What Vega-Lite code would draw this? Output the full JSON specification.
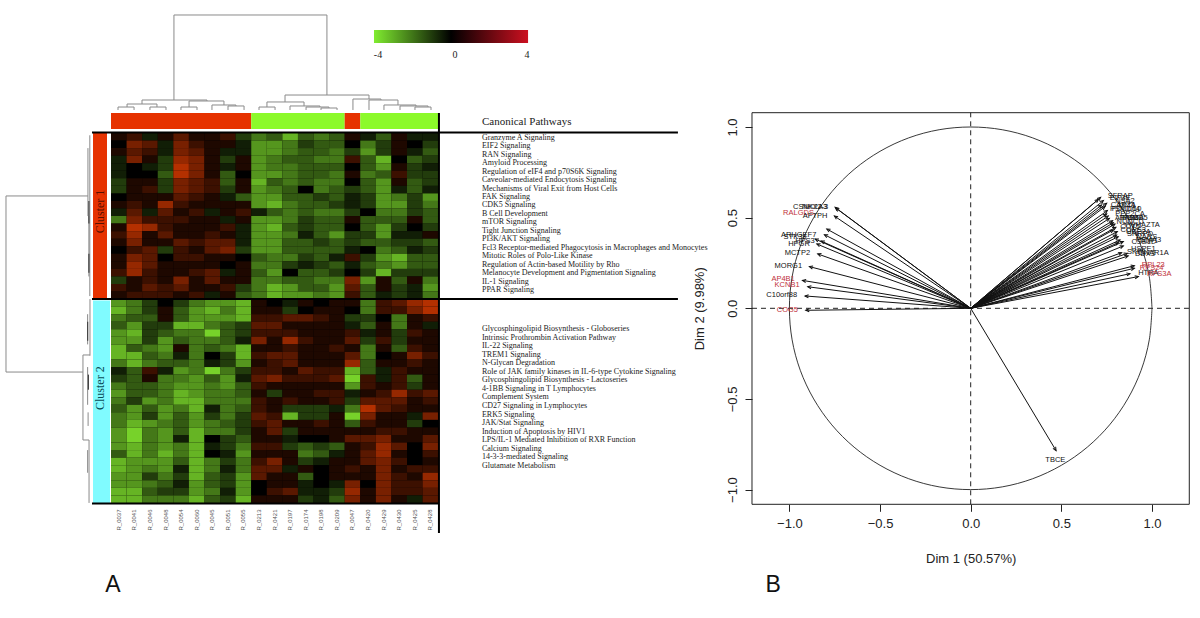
{"$schema":"https://vega.github.io/schema/vega-lite/v6.json","padding":0,"spacing":0,"bounds":"flush","background":"white","config":{"view":{"stroke":null},"concat":{"spacing":0}},
"datasets":{
"heat":[
{"c":0,"r":0,"v":0.5},{"c":1,"r":0,"v":1},{"c":2,"r":0,"v":-0.5},{"c":3,"r":0,"v":0.5},{"c":4,"r":0,"v":1.5},{"c":5,"r":0,"v":0.5},{"c":6,"r":0,"v":0.5},{"c":7,"r":0,"v":1},{"c":8,"r":0,"v":-1},{"c":9,"r":0,"v":-2},{"c":10,"r":0,"v":-1.5},{"c":11,"r":0,"v":-3},{"c":12,"r":0,"v":-1.5},{"c":13,"r":0,"v":-2},{"c":14,"r":0,"v":-1.5},{"c":15,"r":0,"v":0.5},{"c":16,"r":0,"v":-0.5},{"c":17,"r":0,"v":-1.5},{"c":18,"r":0,"v":0.5},{"c":19,"r":0,"v":-0.5},{"c":20,"r":0,"v":-0.5},
{"c":0,"r":1,"v":0},{"c":1,"r":1,"v":2},{"c":2,"r":1,"v":1.5},{"c":3,"r":1,"v":-0.5},{"c":4,"r":1,"v":2},{"c":5,"r":1,"v":1},{"c":6,"r":1,"v":0.5},{"c":7,"r":1,"v":0.5},{"c":8,"r":1,"v":-0.5},{"c":9,"r":1,"v":-2.5},{"c":10,"r":1,"v":-2.5},{"c":11,"r":1,"v":-2},{"c":12,"r":1,"v":-1},{"c":13,"r":1,"v":-1.5},{"c":14,"r":1,"v":-1.5},{"c":15,"r":1,"v":0},{"c":16,"r":1,"v":-2},{"c":17,"r":1,"v":-1},{"c":18,"r":1,"v":0.5},{"c":19,"r":1,"v":0},{"c":20,"r":1,"v":-1},
{"c":0,"r":2,"v":0.5},{"c":1,"r":2,"v":1.5},{"c":2,"r":2,"v":1},{"c":3,"r":2,"v":-0.5},{"c":4,"r":2,"v":2},{"c":5,"r":2,"v":1.5},{"c":6,"r":2,"v":0.5},{"c":7,"r":2,"v":-0.5},{"c":8,"r":2,"v":-0.5},{"c":9,"r":2,"v":-2.5},{"c":10,"r":2,"v":-2.5},{"c":11,"r":2,"v":-2},{"c":12,"r":2,"v":-1.5},{"c":13,"r":2,"v":-1.5},{"c":14,"r":2,"v":-2},{"c":15,"r":2,"v":-1},{"c":16,"r":2,"v":-2.5},{"c":17,"r":2,"v":-1},{"c":18,"r":2,"v":0.5},{"c":19,"r":2,"v":-0.5},{"c":20,"r":2,"v":-1.5},
{"c":0,"r":3,"v":-0.5},{"c":1,"r":3,"v":2},{"c":2,"r":3,"v":0.5},{"c":3,"r":3,"v":-1},{"c":4,"r":3,"v":2.5},{"c":5,"r":3,"v":2},{"c":6,"r":3,"v":0.5},{"c":7,"r":3,"v":-1},{"c":8,"r":3,"v":0.5},{"c":9,"r":3,"v":-2.5},{"c":10,"r":3,"v":-2},{"c":11,"r":3,"v":-1.5},{"c":12,"r":3,"v":-1.5},{"c":13,"r":3,"v":-2},{"c":14,"r":3,"v":-2},{"c":15,"r":3,"v":1},{"c":16,"r":3,"v":-1.5},{"c":17,"r":3,"v":-3},{"c":18,"r":3,"v":0},{"c":19,"r":3,"v":-1.5},{"c":20,"r":3,"v":-1},
{"c":0,"r":4,"v":-0.5},{"c":1,"r":4,"v":0},{"c":2,"r":4,"v":-0.5},{"c":3,"r":4,"v":-1},{"c":4,"r":4,"v":3},{"c":5,"r":4,"v":2},{"c":6,"r":4,"v":0.5},{"c":7,"r":4,"v":-0.5},{"c":8,"r":4,"v":0.5},{"c":9,"r":4,"v":-2.5},{"c":10,"r":4,"v":-2},{"c":11,"r":4,"v":-2},{"c":12,"r":4,"v":-1.5},{"c":13,"r":4,"v":-1.5},{"c":14,"r":4,"v":-1.5},{"c":15,"r":4,"v":0},{"c":16,"r":4,"v":-1.5},{"c":17,"r":4,"v":-2.5},{"c":18,"r":4,"v":0.5},{"c":19,"r":4,"v":-1},{"c":20,"r":4,"v":-0.5},
{"c":0,"r":5,"v":-0.5},{"c":1,"r":5,"v":0},{"c":2,"r":5,"v":0},{"c":3,"r":5,"v":-1.5},{"c":4,"r":5,"v":3},{"c":5,"r":5,"v":2},{"c":6,"r":5,"v":0.5},{"c":7,"r":5,"v":-1.5},{"c":8,"r":5,"v":0},{"c":9,"r":5,"v":-2.5},{"c":10,"r":5,"v":-2.5},{"c":11,"r":5,"v":-2},{"c":12,"r":5,"v":-1.5},{"c":13,"r":5,"v":-1.5},{"c":14,"r":5,"v":-2},{"c":15,"r":5,"v":0.5},{"c":16,"r":5,"v":-2},{"c":17,"r":5,"v":-1.5},{"c":18,"r":5,"v":1},{"c":19,"r":5,"v":-1},{"c":20,"r":5,"v":-1},
{"c":0,"r":6,"v":-1},{"c":1,"r":6,"v":0.5},{"c":2,"r":6,"v":0.5},{"c":3,"r":6,"v":-1},{"c":4,"r":6,"v":2},{"c":5,"r":6,"v":1.5},{"c":6,"r":6,"v":1},{"c":7,"r":6,"v":-1.5},{"c":8,"r":6,"v":0.5},{"c":9,"r":6,"v":-3},{"c":10,"r":6,"v":-1.5},{"c":11,"r":6,"v":-2},{"c":12,"r":6,"v":-1.5},{"c":13,"r":6,"v":-2},{"c":14,"r":6,"v":-2},{"c":15,"r":6,"v":0},{"c":16,"r":6,"v":-1.5},{"c":17,"r":6,"v":-2.5},{"c":18,"r":6,"v":0.5},{"c":19,"r":6,"v":-1.5},{"c":20,"r":6,"v":-1},
{"c":0,"r":7,"v":-1},{"c":1,"r":7,"v":0.5},{"c":2,"r":7,"v":1},{"c":3,"r":7,"v":-1},{"c":4,"r":7,"v":2},{"c":5,"r":7,"v":1.5},{"c":6,"r":7,"v":1},{"c":7,"r":7,"v":-1},{"c":8,"r":7,"v":0.5},{"c":9,"r":7,"v":-2.5},{"c":10,"r":7,"v":-2},{"c":11,"r":7,"v":-1.5},{"c":12,"r":7,"v":0},{"c":13,"r":7,"v":-2},{"c":14,"r":7,"v":-1.5},{"c":15,"r":7,"v":-1},{"c":16,"r":7,"v":-1.5},{"c":17,"r":7,"v":-2.5},{"c":18,"r":7,"v":-0.5},{"c":19,"r":7,"v":-1.5},{"c":20,"r":7,"v":-0.5},
{"c":0,"r":8,"v":0},{"c":1,"r":8,"v":0.5},{"c":2,"r":8,"v":0.5},{"c":3,"r":8,"v":0.5},{"c":4,"r":8,"v":1.5},{"c":5,"r":8,"v":1},{"c":6,"r":8,"v":0.5},{"c":7,"r":8,"v":-0.5},{"c":8,"r":8,"v":-1.5},{"c":9,"r":8,"v":-2.5},{"c":10,"r":8,"v":-2.5},{"c":11,"r":8,"v":-1.5},{"c":12,"r":8,"v":-1.5},{"c":13,"r":8,"v":-1},{"c":14,"r":8,"v":-1.5},{"c":15,"r":8,"v":-0.5},{"c":16,"r":8,"v":-1},{"c":17,"r":8,"v":-2.5},{"c":18,"r":8,"v":-2},{"c":19,"r":8,"v":-1},{"c":20,"r":8,"v":-2.5},
{"c":0,"r":9,"v":0.5},{"c":1,"r":9,"v":1},{"c":2,"r":9,"v":0.5},{"c":3,"r":9,"v":2.5},{"c":4,"r":9,"v":1},{"c":5,"r":9,"v":0.5},{"c":6,"r":9,"v":0.5},{"c":7,"r":9,"v":0.5},{"c":8,"r":9,"v":0.5},{"c":9,"r":9,"v":-2.5},{"c":10,"r":9,"v":-3},{"c":11,"r":9,"v":-2},{"c":12,"r":9,"v":-1.5},{"c":13,"r":9,"v":-1.5},{"c":14,"r":9,"v":-1},{"c":15,"r":9,"v":-0.5},{"c":16,"r":9,"v":-1},{"c":17,"r":9,"v":-2.5},{"c":18,"r":9,"v":-2.5},{"c":19,"r":9,"v":-1},{"c":20,"r":9,"v":-2},
{"c":0,"r":10,"v":-0.5},{"c":1,"r":10,"v":1.5},{"c":2,"r":10,"v":-0.5},{"c":3,"r":10,"v":1.5},{"c":4,"r":10,"v":0.5},{"c":5,"r":10,"v":1},{"c":6,"r":10,"v":-0.5},{"c":7,"r":10,"v":0.5},{"c":8,"r":10,"v":1},{"c":9,"r":10,"v":-0.5},{"c":10,"r":10,"v":-1.5},{"c":11,"r":10,"v":-2},{"c":12,"r":10,"v":-1.5},{"c":13,"r":10,"v":-2},{"c":14,"r":10,"v":-2},{"c":15,"r":10,"v":-1},{"c":16,"r":10,"v":0},{"c":17,"r":10,"v":-2},{"c":18,"r":10,"v":-2},{"c":19,"r":10,"v":-1},{"c":20,"r":10,"v":-1.5},
{"c":0,"r":11,"v":-2},{"c":1,"r":11,"v":2},{"c":2,"r":11,"v":1},{"c":3,"r":11,"v":1},{"c":4,"r":11,"v":1},{"c":5,"r":11,"v":0.5},{"c":6,"r":11,"v":0.5},{"c":7,"r":11,"v":-0.5},{"c":8,"r":11,"v":0.5},{"c":9,"r":11,"v":-2.5},{"c":10,"r":11,"v":-2.5},{"c":11,"r":11,"v":-2},{"c":12,"r":11,"v":-1},{"c":13,"r":11,"v":-1.5},{"c":14,"r":11,"v":-1.5},{"c":15,"r":11,"v":0.5},{"c":16,"r":11,"v":-1.5},{"c":17,"r":11,"v":-1.5},{"c":18,"r":11,"v":-1.5},{"c":19,"r":11,"v":0.5},{"c":20,"r":11,"v":-1.5},
{"c":0,"r":12,"v":0.5},{"c":1,"r":12,"v":3},{"c":2,"r":12,"v":2.5},{"c":3,"r":12,"v":1},{"c":4,"r":12,"v":0.5},{"c":5,"r":12,"v":0.5},{"c":6,"r":12,"v":0.5},{"c":7,"r":12,"v":1},{"c":8,"r":12,"v":-0.5},{"c":9,"r":12,"v":-2.5},{"c":10,"r":12,"v":-3},{"c":11,"r":12,"v":-1.5},{"c":12,"r":12,"v":-1},{"c":13,"r":12,"v":-1.5},{"c":14,"r":12,"v":-1.5},{"c":15,"r":12,"v":0},{"c":16,"r":12,"v":-1.5},{"c":17,"r":12,"v":-2.5},{"c":18,"r":12,"v":-1},{"c":19,"r":12,"v":0},{"c":20,"r":12,"v":-1},
{"c":0,"r":13,"v":1},{"c":1,"r":13,"v":2.5},{"c":2,"r":13,"v":0.5},{"c":3,"r":13,"v":1.5},{"c":4,"r":13,"v":0.5},{"c":5,"r":13,"v":0.5},{"c":6,"r":13,"v":1},{"c":7,"r":13,"v":0.5},{"c":8,"r":13,"v":-0.5},{"c":9,"r":13,"v":-2.5},{"c":10,"r":13,"v":-2.5},{"c":11,"r":13,"v":-2},{"c":12,"r":13,"v":-0.5},{"c":13,"r":13,"v":-1.5},{"c":14,"r":13,"v":-2.5},{"c":15,"r":13,"v":-1},{"c":16,"r":13,"v":-1},{"c":17,"r":13,"v":-2.5},{"c":18,"r":13,"v":-0.5},{"c":19,"r":13,"v":-0.5},{"c":20,"r":13,"v":0.5},
{"c":0,"r":14,"v":0.5},{"c":1,"r":14,"v":2},{"c":2,"r":14,"v":0.5},{"c":3,"r":14,"v":0.5},{"c":4,"r":14,"v":1.5},{"c":5,"r":14,"v":1},{"c":6,"r":14,"v":1.5},{"c":7,"r":14,"v":1.5},{"c":8,"r":14,"v":-0.5},{"c":9,"r":14,"v":-2.5},{"c":10,"r":14,"v":-2.5},{"c":11,"r":14,"v":-1.5},{"c":12,"r":14,"v":-1.5},{"c":13,"r":14,"v":-1},{"c":14,"r":14,"v":-1.5},{"c":15,"r":14,"v":-1},{"c":16,"r":14,"v":-1.5},{"c":17,"r":14,"v":-1.5},{"c":18,"r":14,"v":-1},{"c":19,"r":14,"v":-1},{"c":20,"r":14,"v":-1.5},
{"c":0,"r":15,"v":0},{"c":1,"r":15,"v":1},{"c":2,"r":15,"v":1.5},{"c":3,"r":15,"v":-1},{"c":4,"r":15,"v":1},{"c":5,"r":15,"v":0.5},{"c":6,"r":15,"v":1.5},{"c":7,"r":15,"v":2},{"c":8,"r":15,"v":-1},{"c":9,"r":15,"v":-2.5},{"c":10,"r":15,"v":-2.5},{"c":11,"r":15,"v":-1.5},{"c":12,"r":15,"v":-1.5},{"c":13,"r":15,"v":-1.5},{"c":14,"r":15,"v":-1.5},{"c":15,"r":15,"v":-0.5},{"c":16,"r":15,"v":0},{"c":17,"r":15,"v":-2},{"c":18,"r":15,"v":-1.5},{"c":19,"r":15,"v":-0.5},{"c":20,"r":15,"v":-1},
{"c":0,"r":16,"v":0.5},{"c":1,"r":16,"v":2},{"c":2,"r":16,"v":1.5},{"c":3,"r":16,"v":0},{"c":4,"r":16,"v":1},{"c":5,"r":16,"v":1},{"c":6,"r":16,"v":0.5},{"c":7,"r":16,"v":0.5},{"c":8,"r":16,"v":0},{"c":9,"r":16,"v":-1.5},{"c":10,"r":16,"v":-2},{"c":11,"r":16,"v":-2},{"c":12,"r":16,"v":-1},{"c":13,"r":16,"v":-1.5},{"c":14,"r":16,"v":-0.5},{"c":15,"r":16,"v":1},{"c":16,"r":16,"v":-1},{"c":17,"r":16,"v":-2.5},{"c":18,"r":16,"v":-3},{"c":19,"r":16,"v":-1.5},{"c":20,"r":16,"v":-1.5},
{"c":0,"r":17,"v":0.5},{"c":1,"r":17,"v":2.5},{"c":2,"r":17,"v":1.5},{"c":3,"r":17,"v":0.5},{"c":4,"r":17,"v":0.5},{"c":5,"r":17,"v":0.5},{"c":6,"r":17,"v":0.5},{"c":7,"r":17,"v":0},{"c":8,"r":17,"v":0.5},{"c":9,"r":17,"v":-2},{"c":10,"r":17,"v":-2},{"c":11,"r":17,"v":-1},{"c":12,"r":17,"v":-0.5},{"c":13,"r":17,"v":-1},{"c":14,"r":17,"v":-1.5},{"c":15,"r":17,"v":-0.5},{"c":16,"r":17,"v":-1.5},{"c":17,"r":17,"v":-2},{"c":18,"r":17,"v":-2.5},{"c":19,"r":17,"v":-1.5},{"c":20,"r":17,"v":-1.5},
{"c":0,"r":18,"v":1},{"c":1,"r":18,"v":2.5},{"c":2,"r":18,"v":1},{"c":3,"r":18,"v":0.5},{"c":4,"r":18,"v":0.5},{"c":5,"r":18,"v":1},{"c":6,"r":18,"v":1.5},{"c":7,"r":18,"v":-0.5},{"c":8,"r":18,"v":0.5},{"c":9,"r":18,"v":-1.5},{"c":10,"r":18,"v":-2.5},{"c":11,"r":18,"v":0},{"c":12,"r":18,"v":-1.5},{"c":13,"r":18,"v":-1.5},{"c":14,"r":18,"v":-1},{"c":15,"r":18,"v":0},{"c":16,"r":18,"v":-1},{"c":17,"r":18,"v":-3},{"c":18,"r":18,"v":-1},{"c":19,"r":18,"v":-1},{"c":20,"r":18,"v":-1},
{"c":0,"r":19,"v":-1},{"c":1,"r":19,"v":0.5},{"c":2,"r":19,"v":1},{"c":3,"r":19,"v":0.5},{"c":4,"r":19,"v":2},{"c":5,"r":19,"v":0.5},{"c":6,"r":19,"v":1.5},{"c":7,"r":19,"v":0.5},{"c":8,"r":19,"v":0.5},{"c":9,"r":19,"v":-2},{"c":10,"r":19,"v":-2},{"c":11,"r":19,"v":-1.5},{"c":12,"r":19,"v":-1.5},{"c":13,"r":19,"v":-2},{"c":14,"r":19,"v":-2},{"c":15,"r":19,"v":2},{"c":16,"r":19,"v":-2.5},{"c":17,"r":19,"v":0.5},{"c":18,"r":19,"v":-1.5},{"c":19,"r":19,"v":0.5},{"c":20,"r":19,"v":-2},
{"c":0,"r":20,"v":1},{"c":1,"r":20,"v":0.5},{"c":2,"r":20,"v":1.5},{"c":3,"r":20,"v":1},{"c":4,"r":20,"v":1.5},{"c":5,"r":20,"v":0.5},{"c":6,"r":20,"v":0.5},{"c":7,"r":20,"v":1},{"c":8,"r":20,"v":-1},{"c":9,"r":20,"v":-2},{"c":10,"r":20,"v":-3},{"c":11,"r":20,"v":-2.5},{"c":12,"r":20,"v":-1.5},{"c":13,"r":20,"v":-1.5},{"c":14,"r":20,"v":-2.5},{"c":15,"r":20,"v":1.5},{"c":16,"r":20,"v":-1.5},{"c":17,"r":20,"v":0.5},{"c":18,"r":20,"v":-1},{"c":19,"r":20,"v":-0.5},{"c":20,"r":20,"v":-2.5},
{"c":0,"r":21,"v":0.5},{"c":1,"r":21,"v":1},{"c":2,"r":21,"v":1},{"c":3,"r":21,"v":1},{"c":4,"r":21,"v":0.5},{"c":5,"r":21,"v":1},{"c":6,"r":21,"v":-0.5},{"c":7,"r":21,"v":0.5},{"c":8,"r":21,"v":-1.5},{"c":9,"r":21,"v":-2},{"c":10,"r":21,"v":-3},{"c":11,"r":21,"v":-2.5},{"c":12,"r":21,"v":-2.5},{"c":13,"r":21,"v":-2},{"c":14,"r":21,"v":-2.5},{"c":15,"r":21,"v":1},{"c":16,"r":21,"v":-1.5},{"c":17,"r":21,"v":-0.5},{"c":18,"r":21,"v":-1},{"c":19,"r":21,"v":-0.5},{"c":20,"r":21,"v":-2},
{"c":0,"r":22,"v":-2.5},{"c":1,"r":22,"v":-2},{"c":2,"r":22,"v":-1},{"c":3,"r":22,"v":0},{"c":4,"r":22,"v":-1},{"c":5,"r":22,"v":-2},{"c":6,"r":22,"v":-2.5},{"c":7,"r":22,"v":-2.5},{"c":8,"r":22,"v":-3},{"c":9,"r":22,"v":0.5},{"c":10,"r":22,"v":0},{"c":11,"r":22,"v":-0.5},{"c":12,"r":22,"v":0.5},{"c":13,"r":22,"v":0},{"c":14,"r":22,"v":0.5},{"c":15,"r":22,"v":0.5},{"c":16,"r":22,"v":-2},{"c":17,"r":22,"v":1},{"c":18,"r":22,"v":1.5},{"c":19,"r":22,"v":2.5},{"c":20,"r":22,"v":3},
{"c":0,"r":23,"v":-3},{"c":1,"r":23,"v":-2},{"c":2,"r":23,"v":-1},{"c":3,"r":23,"v":0.5},{"c":4,"r":23,"v":-1.5},{"c":5,"r":23,"v":-2.5},{"c":6,"r":23,"v":-3},{"c":7,"r":23,"v":-2},{"c":8,"r":23,"v":-3},{"c":9,"r":23,"v":0.5},{"c":10,"r":23,"v":0.5},{"c":11,"r":23,"v":-1},{"c":12,"r":23,"v":0},{"c":13,"r":23,"v":0.5},{"c":14,"r":23,"v":0.5},{"c":15,"r":23,"v":0},{"c":16,"r":23,"v":-2},{"c":17,"r":23,"v":1},{"c":18,"r":23,"v":1},{"c":19,"r":23,"v":2},{"c":20,"r":23,"v":3},
{"c":0,"r":24,"v":-2},{"c":1,"r":24,"v":-1.5},{"c":2,"r":24,"v":-1.5},{"c":3,"r":24,"v":0.5},{"c":4,"r":24,"v":-1.5},{"c":5,"r":24,"v":-2.5},{"c":6,"r":24,"v":-2.5},{"c":7,"r":24,"v":-2.5},{"c":8,"r":24,"v":-3},{"c":9,"r":24,"v":1},{"c":10,"r":24,"v":1},{"c":11,"r":24,"v":1.5},{"c":12,"r":24,"v":1.5},{"c":13,"r":24,"v":1},{"c":14,"r":24,"v":0.5},{"c":15,"r":24,"v":-1},{"c":16,"r":24,"v":-1},{"c":17,"r":24,"v":0},{"c":18,"r":24,"v":-2},{"c":19,"r":24,"v":0.5},{"c":20,"r":24,"v":1},
{"c":0,"r":25,"v":-1.5},{"c":1,"r":25,"v":-2.5},{"c":2,"r":25,"v":-1},{"c":3,"r":25,"v":-1},{"c":4,"r":25,"v":-3},{"c":5,"r":25,"v":-3},{"c":6,"r":25,"v":-2},{"c":7,"r":25,"v":-1.5},{"c":8,"r":25,"v":-1},{"c":9,"r":25,"v":1.5},{"c":10,"r":25,"v":1.5},{"c":11,"r":25,"v":0.5},{"c":12,"r":25,"v":0.5},{"c":13,"r":25,"v":0.5},{"c":14,"r":25,"v":0.5},{"c":15,"r":25,"v":-0.5},{"c":16,"r":25,"v":-1.5},{"c":17,"r":25,"v":0.5},{"c":18,"r":25,"v":-2},{"c":19,"r":25,"v":0.5},{"c":20,"r":25,"v":-0.5},
{"c":0,"r":26,"v":-2.5},{"c":1,"r":26,"v":-3},{"c":2,"r":26,"v":-1},{"c":3,"r":26,"v":-1.5},{"c":4,"r":26,"v":-2},{"c":5,"r":26,"v":-2},{"c":6,"r":26,"v":-3.5},{"c":7,"r":26,"v":-1.5},{"c":8,"r":26,"v":-1},{"c":9,"r":26,"v":1},{"c":10,"r":26,"v":1},{"c":11,"r":26,"v":1},{"c":12,"r":26,"v":0.5},{"c":13,"r":26,"v":0.5},{"c":14,"r":26,"v":0.5},{"c":15,"r":26,"v":1},{"c":16,"r":26,"v":-0.5},{"c":17,"r":26,"v":0.5},{"c":18,"r":26,"v":-1},{"c":19,"r":26,"v":1},{"c":20,"r":26,"v":0.5},
{"c":0,"r":27,"v":-2.5},{"c":1,"r":27,"v":-2.5},{"c":2,"r":27,"v":-1},{"c":3,"r":27,"v":-2.5},{"c":4,"r":27,"v":-1.5},{"c":5,"r":27,"v":-2},{"c":6,"r":27,"v":-2},{"c":7,"r":27,"v":-1.5},{"c":8,"r":27,"v":-0.5},{"c":9,"r":27,"v":2},{"c":10,"r":27,"v":0.5},{"c":11,"r":27,"v":2.5},{"c":12,"r":27,"v":1},{"c":13,"r":27,"v":0.5},{"c":14,"r":27,"v":0.5},{"c":15,"r":27,"v":1.5},{"c":16,"r":27,"v":-1},{"c":17,"r":27,"v":1},{"c":18,"r":27,"v":-1},{"c":19,"r":27,"v":0.5},{"c":20,"r":27,"v":0.5},
{"c":0,"r":28,"v":-3},{"c":1,"r":28,"v":-1.5},{"c":2,"r":28,"v":-2},{"c":3,"r":28,"v":-2.5},{"c":4,"r":28,"v":0.5},{"c":5,"r":28,"v":-2},{"c":6,"r":28,"v":-1.5},{"c":7,"r":28,"v":-2},{"c":8,"r":28,"v":-3},{"c":9,"r":28,"v":0.5},{"c":10,"r":28,"v":0.5},{"c":11,"r":28,"v":1},{"c":12,"r":28,"v":0.5},{"c":13,"r":28,"v":0.5},{"c":14,"r":28,"v":1},{"c":15,"r":28,"v":0.5},{"c":16,"r":28,"v":-2},{"c":17,"r":28,"v":0.5},{"c":18,"r":28,"v":-1.5},{"c":19,"r":28,"v":1},{"c":20,"r":28,"v":0.5},
{"c":0,"r":29,"v":-3},{"c":1,"r":29,"v":-3},{"c":2,"r":29,"v":-1.5},{"c":3,"r":29,"v":-2},{"c":4,"r":29,"v":-0.5},{"c":5,"r":29,"v":-2},{"c":6,"r":29,"v":0},{"c":7,"r":29,"v":-1},{"c":8,"r":29,"v":-3},{"c":9,"r":29,"v":1},{"c":10,"r":29,"v":1.5},{"c":11,"r":29,"v":1.5},{"c":12,"r":29,"v":0.5},{"c":13,"r":29,"v":0.5},{"c":14,"r":29,"v":0.5},{"c":15,"r":29,"v":1.5},{"c":16,"r":29,"v":-2},{"c":17,"r":29,"v":0},{"c":18,"r":29,"v":0.5},{"c":19,"r":29,"v":2},{"c":20,"r":29,"v":1},
{"c":0,"r":30,"v":-2},{"c":1,"r":30,"v":-3},{"c":2,"r":30,"v":-2},{"c":3,"r":30,"v":-1.5},{"c":4,"r":30,"v":-1.5},{"c":5,"r":30,"v":-2},{"c":6,"r":30,"v":-0.5},{"c":7,"r":30,"v":-1},{"c":8,"r":30,"v":-2.5},{"c":9,"r":30,"v":0.5},{"c":10,"r":30,"v":1},{"c":11,"r":30,"v":1.5},{"c":12,"r":30,"v":0.5},{"c":13,"r":30,"v":0.5},{"c":14,"r":30,"v":0.5},{"c":15,"r":30,"v":2.5},{"c":16,"r":30,"v":-1.5},{"c":17,"r":30,"v":0.5},{"c":18,"r":30,"v":0.5},{"c":19,"r":30,"v":1},{"c":20,"r":30,"v":0.5},
{"c":0,"r":31,"v":-0.5},{"c":1,"r":31,"v":-1.5},{"c":2,"r":31,"v":1},{"c":3,"r":31,"v":-0.5},{"c":4,"r":31,"v":-2.5},{"c":5,"r":31,"v":-2},{"c":6,"r":31,"v":-3.5},{"c":7,"r":31,"v":-2},{"c":8,"r":31,"v":-1},{"c":9,"r":31,"v":1},{"c":10,"r":31,"v":1},{"c":11,"r":31,"v":0.5},{"c":12,"r":31,"v":1.5},{"c":13,"r":31,"v":1},{"c":14,"r":31,"v":1},{"c":15,"r":31,"v":-3},{"c":16,"r":31,"v":-1.5},{"c":17,"r":31,"v":-0.5},{"c":18,"r":31,"v":1},{"c":19,"r":31,"v":0.5},{"c":20,"r":31,"v":0.5},
{"c":0,"r":32,"v":-1},{"c":1,"r":32,"v":-1.5},{"c":2,"r":32,"v":0.5},{"c":3,"r":32,"v":-2},{"c":4,"r":32,"v":-2},{"c":5,"r":32,"v":-2.5},{"c":6,"r":32,"v":-1.5},{"c":7,"r":32,"v":-2.5},{"c":8,"r":32,"v":-0.5},{"c":9,"r":32,"v":1.5},{"c":10,"r":32,"v":2},{"c":11,"r":32,"v":1},{"c":12,"r":32,"v":1},{"c":13,"r":32,"v":1},{"c":14,"r":32,"v":1.5},{"c":15,"r":32,"v":-3.5},{"c":16,"r":32,"v":1},{"c":17,"r":32,"v":-0.5},{"c":18,"r":32,"v":1},{"c":19,"r":32,"v":-1.5},{"c":20,"r":32,"v":0.5},
{"c":0,"r":33,"v":-2},{"c":1,"r":33,"v":-1.5},{"c":2,"r":33,"v":-1.5},{"c":3,"r":33,"v":-2},{"c":4,"r":33,"v":-2.5},{"c":5,"r":33,"v":-2.5},{"c":6,"r":33,"v":-2},{"c":7,"r":33,"v":-2.5},{"c":8,"r":33,"v":-1.5},{"c":9,"r":33,"v":1},{"c":10,"r":33,"v":0.5},{"c":11,"r":33,"v":0.5},{"c":12,"r":33,"v":0.5},{"c":13,"r":33,"v":0.5},{"c":14,"r":33,"v":0.5},{"c":15,"r":33,"v":-2.5},{"c":16,"r":33,"v":1},{"c":17,"r":33,"v":0.5},{"c":18,"r":33,"v":1},{"c":19,"r":33,"v":-1},{"c":20,"r":33,"v":0.5},
{"c":0,"r":34,"v":-2.5},{"c":1,"r":34,"v":-1.5},{"c":2,"r":34,"v":-1.5},{"c":3,"r":34,"v":-2},{"c":4,"r":34,"v":-3},{"c":5,"r":34,"v":-2.5},{"c":6,"r":34,"v":-2},{"c":7,"r":34,"v":-2},{"c":8,"r":34,"v":-1.5},{"c":9,"r":34,"v":0.5},{"c":10,"r":34,"v":-1},{"c":11,"r":34,"v":0.5},{"c":12,"r":34,"v":0.5},{"c":13,"r":34,"v":1},{"c":14,"r":34,"v":1},{"c":15,"r":34,"v":-0.5},{"c":16,"r":34,"v":0.5},{"c":17,"r":34,"v":1},{"c":18,"r":34,"v":2.5},{"c":19,"r":34,"v":1},{"c":20,"r":34,"v":1.5},
{"c":0,"r":35,"v":-2},{"c":1,"r":35,"v":-1},{"c":2,"r":35,"v":-2.5},{"c":3,"r":35,"v":-2},{"c":4,"r":35,"v":-3},{"c":5,"r":35,"v":-3},{"c":6,"r":35,"v":-2},{"c":7,"r":35,"v":-2},{"c":8,"r":35,"v":-2},{"c":9,"r":35,"v":1},{"c":10,"r":35,"v":0.5},{"c":11,"r":35,"v":1},{"c":12,"r":35,"v":0.5},{"c":13,"r":35,"v":0.5},{"c":14,"r":35,"v":1},{"c":15,"r":35,"v":-1},{"c":16,"r":35,"v":1.5},{"c":17,"r":35,"v":1.5},{"c":18,"r":35,"v":1.5},{"c":19,"r":35,"v":0.5},{"c":20,"r":35,"v":1},
{"c":0,"r":36,"v":-1.5},{"c":1,"r":36,"v":-2.5},{"c":2,"r":36,"v":-1.5},{"c":3,"r":36,"v":-2.5},{"c":4,"r":36,"v":-2},{"c":5,"r":36,"v":-3},{"c":6,"r":36,"v":-0.5},{"c":7,"r":36,"v":-2},{"c":8,"r":36,"v":-1.5},{"c":9,"r":36,"v":1},{"c":10,"r":36,"v":0.5},{"c":11,"r":36,"v":-1},{"c":12,"r":36,"v":-1},{"c":13,"r":36,"v":-1},{"c":14,"r":36,"v":-0.5},{"c":15,"r":36,"v":-2},{"c":16,"r":36,"v":3},{"c":17,"r":36,"v":1.5},{"c":18,"r":36,"v":1},{"c":19,"r":36,"v":0.5},{"c":20,"r":36,"v":0.5},
{"c":0,"r":37,"v":-2},{"c":1,"r":37,"v":-2.5},{"c":2,"r":37,"v":-1},{"c":3,"r":37,"v":-2.5},{"c":4,"r":37,"v":-1.5},{"c":5,"r":37,"v":-2.5},{"c":6,"r":37,"v":-1},{"c":7,"r":37,"v":-2},{"c":8,"r":37,"v":-1},{"c":9,"r":37,"v":1.5},{"c":10,"r":37,"v":1},{"c":11,"r":37,"v":-3},{"c":12,"r":37,"v":-1},{"c":13,"r":37,"v":-1},{"c":14,"r":37,"v":0.5},{"c":15,"r":37,"v":-3.5},{"c":16,"r":37,"v":2},{"c":17,"r":37,"v":0.5},{"c":18,"r":37,"v":0.5},{"c":19,"r":37,"v":-0.5},{"c":20,"r":37,"v":2},
{"c":0,"r":38,"v":-2},{"c":1,"r":38,"v":-3},{"c":2,"r":38,"v":-2.5},{"c":3,"r":38,"v":-2},{"c":4,"r":38,"v":-1.5},{"c":5,"r":38,"v":-2.5},{"c":6,"r":38,"v":-2},{"c":7,"r":38,"v":-1.5},{"c":8,"r":38,"v":-1},{"c":9,"r":38,"v":1},{"c":10,"r":38,"v":1.5},{"c":11,"r":38,"v":0.5},{"c":12,"r":38,"v":0.5},{"c":13,"r":38,"v":1},{"c":14,"r":38,"v":0.5},{"c":15,"r":38,"v":-1.5},{"c":16,"r":38,"v":1},{"c":17,"r":38,"v":0.5},{"c":18,"r":38,"v":0.5},{"c":19,"r":38,"v":-1},{"c":20,"r":38,"v":0},
{"c":0,"r":39,"v":-2.5},{"c":1,"r":39,"v":-3.5},{"c":2,"r":39,"v":-2},{"c":3,"r":39,"v":-2.5},{"c":4,"r":39,"v":-1.5},{"c":5,"r":39,"v":-3},{"c":6,"r":39,"v":-2},{"c":7,"r":39,"v":-2},{"c":8,"r":39,"v":-1},{"c":9,"r":39,"v":0.5},{"c":10,"r":39,"v":1.5},{"c":11,"r":39,"v":-1},{"c":12,"r":39,"v":0.5},{"c":13,"r":39,"v":0.5},{"c":14,"r":39,"v":0.5},{"c":15,"r":39,"v":0.5},{"c":16,"r":39,"v":0.5},{"c":17,"r":39,"v":1},{"c":18,"r":39,"v":1},{"c":19,"r":39,"v":0.5},{"c":20,"r":39,"v":0.5},
{"c":0,"r":40,"v":-2.5},{"c":1,"r":40,"v":-3.5},{"c":2,"r":40,"v":-2},{"c":3,"r":40,"v":-2.5},{"c":4,"r":40,"v":-0.5},{"c":5,"r":40,"v":-3},{"c":6,"r":40,"v":0},{"c":7,"r":40,"v":-1},{"c":8,"r":40,"v":-1.5},{"c":9,"r":40,"v":0.5},{"c":10,"r":40,"v":0.5},{"c":11,"r":40,"v":-0.5},{"c":12,"r":40,"v":0},{"c":13,"r":40,"v":0},{"c":14,"r":40,"v":0.5},{"c":15,"r":40,"v":1.5},{"c":16,"r":40,"v":1.5},{"c":17,"r":40,"v":2},{"c":18,"r":40,"v":0.5},{"c":19,"r":40,"v":0.5},{"c":20,"r":40,"v":1.5},
{"c":0,"r":41,"v":-2.5},{"c":1,"r":41,"v":-3},{"c":2,"r":41,"v":-2},{"c":3,"r":41,"v":-2.5},{"c":4,"r":41,"v":-2},{"c":5,"r":41,"v":-3},{"c":6,"r":41,"v":-0.5},{"c":7,"r":41,"v":-1},{"c":8,"r":41,"v":-2},{"c":9,"r":41,"v":1},{"c":10,"r":41,"v":1},{"c":11,"r":41,"v":-1},{"c":12,"r":41,"v":-1.5},{"c":13,"r":41,"v":-1},{"c":14,"r":41,"v":-1.5},{"c":15,"r":41,"v":0.5},{"c":16,"r":41,"v":1},{"c":17,"r":41,"v":2.5},{"c":18,"r":41,"v":1.5},{"c":19,"r":41,"v":0},{"c":20,"r":41,"v":2},
{"c":0,"r":42,"v":-1.5},{"c":1,"r":42,"v":-3},{"c":2,"r":42,"v":-2},{"c":3,"r":42,"v":-3},{"c":4,"r":42,"v":-2},{"c":5,"r":42,"v":-3},{"c":6,"r":42,"v":0},{"c":7,"r":42,"v":-0.5},{"c":8,"r":42,"v":-2.5},{"c":9,"r":42,"v":0.5},{"c":10,"r":42,"v":0.5},{"c":11,"r":42,"v":0.5},{"c":12,"r":42,"v":-2},{"c":13,"r":42,"v":-1.5},{"c":14,"r":42,"v":-0.5},{"c":15,"r":42,"v":0.5},{"c":16,"r":42,"v":1.5},{"c":17,"r":42,"v":2.5},{"c":18,"r":42,"v":0.5},{"c":19,"r":42,"v":0},{"c":20,"r":42,"v":1},
{"c":0,"r":43,"v":-3},{"c":1,"r":43,"v":-2.5},{"c":2,"r":43,"v":-2.5},{"c":3,"r":43,"v":-2.5},{"c":4,"r":43,"v":-1.5},{"c":5,"r":43,"v":-3},{"c":6,"r":43,"v":-2},{"c":7,"r":43,"v":-1},{"c":8,"r":43,"v":-2},{"c":9,"r":43,"v":1},{"c":10,"r":43,"v":2},{"c":11,"r":43,"v":0.5},{"c":12,"r":43,"v":-1},{"c":13,"r":43,"v":-0.5},{"c":14,"r":43,"v":0.5},{"c":15,"r":43,"v":0.5},{"c":16,"r":43,"v":1.5},{"c":17,"r":43,"v":2},{"c":18,"r":43,"v":1},{"c":19,"r":43,"v":0},{"c":20,"r":43,"v":0.5},
{"c":0,"r":44,"v":-3},{"c":1,"r":44,"v":-2.5},{"c":2,"r":44,"v":-2},{"c":3,"r":44,"v":-2.5},{"c":4,"r":44,"v":-0.5},{"c":5,"r":44,"v":-3},{"c":6,"r":44,"v":-2},{"c":7,"r":44,"v":-0.5},{"c":8,"r":44,"v":-2},{"c":9,"r":44,"v":1.5},{"c":10,"r":44,"v":1.5},{"c":11,"r":44,"v":-0.5},{"c":12,"r":44,"v":0.5},{"c":13,"r":44,"v":0},{"c":14,"r":44,"v":0.5},{"c":15,"r":44,"v":1},{"c":16,"r":44,"v":0.5},{"c":17,"r":44,"v":2},{"c":18,"r":44,"v":0.5},{"c":19,"r":44,"v":1},{"c":20,"r":44,"v":1},
{"c":0,"r":45,"v":-2.5},{"c":1,"r":45,"v":-2.5},{"c":2,"r":45,"v":-1},{"c":3,"r":45,"v":-2},{"c":4,"r":45,"v":-1},{"c":5,"r":45,"v":-3},{"c":6,"r":45,"v":-1.5},{"c":7,"r":45,"v":-1},{"c":8,"r":45,"v":-2.5},{"c":9,"r":45,"v":1.5},{"c":10,"r":45,"v":0.5},{"c":11,"r":45,"v":0.5},{"c":12,"r":45,"v":-1.5},{"c":13,"r":45,"v":0},{"c":14,"r":45,"v":0.5},{"c":15,"r":45,"v":0.5},{"c":16,"r":45,"v":0.5},{"c":17,"r":45,"v":2},{"c":18,"r":45,"v":1},{"c":19,"r":45,"v":0.5},{"c":20,"r":45,"v":2.5},
{"c":0,"r":46,"v":-2.5},{"c":1,"r":46,"v":-2.5},{"c":2,"r":46,"v":-2},{"c":3,"r":46,"v":-1.5},{"c":4,"r":46,"v":-0.5},{"c":5,"r":46,"v":-2.5},{"c":6,"r":46,"v":-1.5},{"c":7,"r":46,"v":-1},{"c":8,"r":46,"v":-2.5},{"c":9,"r":46,"v":0},{"c":10,"r":46,"v":0.5},{"c":11,"r":46,"v":0.5},{"c":12,"r":46,"v":-0.5},{"c":13,"r":46,"v":0},{"c":14,"r":46,"v":-0.5},{"c":15,"r":46,"v":2},{"c":16,"r":46,"v":0},{"c":17,"r":46,"v":2},{"c":18,"r":46,"v":1},{"c":19,"r":46,"v":1},{"c":20,"r":46,"v":2},
{"c":0,"r":47,"v":-3},{"c":1,"r":47,"v":-3},{"c":2,"r":47,"v":-1.5},{"c":3,"r":47,"v":-1},{"c":4,"r":47,"v":-1},{"c":5,"r":47,"v":-2.5},{"c":6,"r":47,"v":-2},{"c":7,"r":47,"v":-0.5},{"c":8,"r":47,"v":-2.5},{"c":9,"r":47,"v":0},{"c":10,"r":47,"v":1},{"c":11,"r":47,"v":1.5},{"c":12,"r":47,"v":-0.5},{"c":13,"r":47,"v":-0.5},{"c":14,"r":47,"v":-1},{"c":15,"r":47,"v":2.5},{"c":16,"r":47,"v":0.5},{"c":17,"r":47,"v":2},{"c":18,"r":47,"v":1},{"c":19,"r":47,"v":1},{"c":20,"r":47,"v":1.5},
{"c":0,"r":48,"v":-3},{"c":1,"r":48,"v":-3},{"c":2,"r":48,"v":-2},{"c":3,"r":48,"v":-2},{"c":4,"r":48,"v":-2},{"c":5,"r":48,"v":-3},{"c":6,"r":48,"v":-1.5},{"c":7,"r":48,"v":-1},{"c":8,"r":48,"v":-3},{"c":9,"r":48,"v":0.5},{"c":10,"r":48,"v":0.5},{"c":11,"r":48,"v":0.5},{"c":12,"r":48,"v":-1},{"c":13,"r":48,"v":-0.5},{"c":14,"r":48,"v":-1.5},{"c":15,"r":48,"v":2},{"c":16,"r":48,"v":0.5},{"c":17,"r":48,"v":2},{"c":18,"r":48,"v":0.5},{"c":19,"r":48,"v":-0.5},{"c":20,"r":48,"v":1.5}
],
"strips":[
{"c":0,"c2":9,"r":-2.65,"r2":-0.53,"g":"red"},{"c":9,"c2":15,"r":-2.65,"r2":-0.53,"g":"green"},{"c":15,"c2":16,"r":-2.65,"r2":-0.53,"g":"red"},{"c":16,"c2":21,"r":-2.65,"r2":-0.53,"g":"green"},
{"c":-1.155,"c2":-0.257,"r":0,"r2":22,"g":"red"},{"c":-1.155,"c2":-0.064,"r":22.2,"r2":49,"g":"cyan"}
],
"frame":[{"c":0,"c2":21,"r":0,"r2":49}],
"samples":[{"c":0.5,"r":51.26,"t":"R_0037"},{"c":1.5,"r":51.26,"t":"R_0041"},{"c":2.5,"r":51.26,"t":"R_0046"},{"c":3.5,"r":51.26,"t":"R_0048"},{"c":4.5,"r":51.26,"t":"R_0054"},{"c":5.5,"r":51.26,"t":"R_0060"},{"c":6.5,"r":51.26,"t":"R_0045"},{"c":7.5,"r":51.26,"t":"R_0051"},{"c":8.5,"r":51.26,"t":"R_0055"},{"c":9.5,"r":51.26,"t":"R_0213"},{"c":10.5,"r":51.26,"t":"R_0421"},{"c":11.5,"r":51.26,"t":"R_0197"},{"c":12.5,"r":51.26,"t":"R_0174"},{"c":13.5,"r":51.26,"t":"R_0198"},{"c":14.5,"r":51.26,"t":"R_0209"},{"c":15.5,"r":51.26,"t":"R_0047"},{"c":16.5,"r":51.26,"t":"R_0420"},{"c":17.5,"r":51.26,"t":"R_0429"},{"c":18.5,"r":51.26,"t":"R_0430"},{"c":19.5,"r":51.26,"t":"R_0425"},{"c":20.5,"r":51.26,"t":"R_0428"}],
"thick":[{"c":-1.22,"r":-0.07,"c2":36.39,"r2":-0.07},{"c":-1.22,"r":22,"c2":36.39,"r2":22},{"c":-1.22,"r":49.07,"c2":21,"r2":49.07},{"c":21.05,"r":-2.65,"c2":21.05,"r2":52.98}],
"dendro":[
{"c":4.04,"r":-15.63,"c2":13.86,"r2":-15.63},{"c":4.04,"r":-15.63,"c2":4.04,"r2":-4.37},{"c":13.86,"r":-15.63,"c2":13.86,"r2":-5.03},
{"c":1.99,"r":-4.37,"c2":6.16,"r2":-4.37},{"c":1.99,"r":-4.37,"c2":1.99,"r2":-3.84},{"c":1.03,"r":-3.84,"c2":2.95,"r2":-3.84},{"c":1.03,"r":-3.84,"c2":1.03,"r2":-3.44},{"c":0.45,"r":-3.44,"c2":1.48,"r2":-3.44},{"c":0.45,"r":-3.44,"c2":0.45,"r2":-3.05},{"c":1.48,"r":-3.44,"c2":1.48,"r2":-3.05},{"c":2.95,"r":-3.84,"c2":2.95,"r2":-3.44},{"c":2.5,"r":-3.44,"c2":3.53,"r2":-3.44},{"c":2.5,"r":-3.44,"c2":2.5,"r2":-3.05},{"c":3.53,"r":-3.44,"c2":3.53,"r2":-3.05},
{"c":6.16,"r":-4.37,"c2":6.16,"r2":-4.24},{"c":5.01,"r":-4.24,"c2":7.25,"r2":-4.24},{"c":5.01,"r":-4.24,"c2":5.01,"r2":-3.44},{"c":4.49,"r":-3.44,"c2":5.52,"r2":-3.44},{"c":4.49,"r":-3.44,"c2":4.49,"r2":-3.05},{"c":5.52,"r":-3.44,"c2":5.52,"r2":-3.05},{"c":7.25,"r":-4.24,"c2":7.25,"r2":-3.71},{"c":6.48,"r":-3.71,"c2":8.02,"r2":-3.71},{"c":6.48,"r":-3.71,"c2":6.48,"r2":-3.05},{"c":8.02,"r":-3.71,"c2":8.02,"r2":-3.58},{"c":7.51,"r":-3.58,"c2":8.54,"r2":-3.58},{"c":7.51,"r":-3.58,"c2":7.51,"r2":-3.05},{"c":8.54,"r":-3.58,"c2":8.54,"r2":-3.05},
{"c":11.17,"r":-5.03,"c2":16.56,"r2":-5.03},{"c":11.17,"r":-5.03,"c2":11.17,"r2":-4.11},{"c":10.01,"r":-4.11,"c2":12.39,"r2":-4.11},{"c":10.01,"r":-4.11,"c2":10.01,"r2":-3.44},{"c":9.5,"r":-3.44,"c2":10.53,"r2":-3.44},{"c":9.5,"r":-3.44,"c2":9.5,"r2":-3.05},{"c":10.53,"r":-3.44,"c2":10.53,"r2":-3.05},{"c":12.39,"r":-4.11,"c2":12.39,"r2":-3.58},{"c":11.49,"r":-3.58,"c2":13.41,"r2":-3.58},{"c":11.49,"r":-3.58,"c2":11.49,"r2":-3.05},{"c":13.41,"r":-3.58,"c2":13.41,"r2":-3.44},{"c":12.52,"r":-3.44,"c2":13.99,"r2":-3.44},{"c":12.52,"r":-3.44,"c2":12.52,"r2":-3.05},{"c":13.99,"r":-3.44,"c2":13.99,"r2":-3.31},{"c":13.48,"r":-3.31,"c2":14.51,"r2":-3.31},{"c":13.48,"r":-3.31,"c2":13.48,"r2":-3.05},{"c":14.51,"r":-3.31,"c2":14.51,"r2":-3.05},
{"c":16.56,"r":-5.03,"c2":16.56,"r2":-4.5},{"c":15.53,"r":-4.5,"c2":17.33,"r2":-4.5},{"c":15.53,"r":-4.5,"c2":15.53,"r2":-3.05},{"c":17.33,"r":-4.5,"c2":17.33,"r2":-4.37},{"c":16.56,"r":-4.37,"c2":18.42,"r2":-4.37},{"c":16.56,"r":-4.37,"c2":16.56,"r2":-3.05},{"c":18.42,"r":-4.37,"c2":18.42,"r2":-3.71},{"c":17.52,"r":-3.71,"c2":19.58,"r2":-3.71},{"c":17.52,"r":-3.71,"c2":17.52,"r2":-3.05},{"c":19.58,"r":-3.71,"c2":19.58,"r2":-3.58},{"c":18.55,"r":-3.58,"c2":20.35,"r2":-3.58},{"c":18.55,"r":-3.58,"c2":18.55,"r2":-3.05},{"c":20.35,"r":-3.58,"c2":20.35,"r2":-3.44},{"c":19.51,"r":-3.44,"c2":20.54,"r2":-3.44},{"c":19.51,"r":-3.44,"c2":19.51,"r2":-3.05},{"c":20.54,"r":-3.44,"c2":20.54,"r2":-3.05},
{"c":-6.74,"r":8.34,"c2":-6.74,"r2":31.66},{"c":-6.74,"r":8.34,"c2":-1.48,"r2":8.34},{"c":-6.74,"r":31.66,"c2":-1.8,"r2":31.66},
{"c":-1.36,"r":0.3,"c2":-1.36,"r2":21.6},{"c":-1.48,"r":2,"c2":-1.48,"r2":11},{"c":-1.42,"r":11,"c2":-1.42,"r2":19},
{"c":-1.8,"r":29.4,"c2":-1.8,"r2":40.66},{"c":-1.8,"r":40.66,"c2":-1.41,"r2":40.66},{"c":-1.41,"r":40.66,"c2":-1.41,"r2":49},{"c":-1.35,"r":22,"c2":-1.35,"r2":29.5},{"c":-1.8,"r":29.4,"c2":-1.35,"r2":29.4},{"c":-1.5,"r":24,"c2":-1.5,"r2":28},{"c":-1.5,"r":31,"c2":-1.5,"r2":36},{"c":-1.47,"r":37,"c2":-1.47,"r2":38.8},{"c":-1.5,"r":42,"c2":-1.5,"r2":45}
],
"dark":[{"c":-1.42,"r":9,"c2":-1.42,"r2":12},{"c":-1.42,"r":16,"c2":-1.42,"r2":18.5},{"c":-1.5,"r":25,"c2":-1.5,"r2":27.5},{"c":-1.45,"r":32,"c2":-1.45,"r2":34}],
"c1path":[{"c":23.81,"r":0.66,"t":"Granzyme A Signaling"},{"c":23.81,"r":1.78,"t":"EIF2 Signaling"},{"c":23.81,"r":2.9,"t":"RAN Signaling"},{"c":23.81,"r":4.01,"t":"Amyloid Processing"},{"c":23.81,"r":5.13,"t":"Regulation of eIF4 and p70S6K Signaling"},{"c":23.81,"r":6.25,"t":"Caveolar-mediated Endocytosis Signaling"},{"c":23.81,"r":7.37,"t":"Mechanisms of Viral Exit from Host Cells"},{"c":23.81,"r":8.49,"t":"FAK Signaling"},{"c":23.81,"r":9.6,"t":"CDK5 Signaling"},{"c":23.81,"r":10.72,"t":"B Cell Development"},{"c":23.81,"r":11.84,"t":"mTOR Signaling"},{"c":23.81,"r":12.96,"t":"Tight Junction Signaling"},{"c":23.81,"r":14.08,"t":"PI3K/AKT Signaling"},{"c":23.81,"r":15.19,"t":"Fcl3 Receptor-mediated Phagocytosis in Macrophages and Monocytes"},{"c":23.81,"r":16.31,"t":"Mitotic Roles of Polo-Like Kinase"},{"c":23.81,"r":17.43,"t":"Regulation of Actin-based Motility by Rho"},{"c":23.81,"r":18.55,"t":"Melanocyte Development and Pigmentation Signaling"},{"c":23.81,"r":19.67,"t":"IL-1 Signaling"},{"c":23.81,"r":20.78,"t":"PPAR Signaling"},
{"c":23.81,"r":25.96,"t":"Glycosphingolipid Biosynthesis - Globoseries"},{"c":23.81,"r":27.09,"t":"Intrinsic Prothrombin Activation Pathway"},{"c":23.81,"r":28.23,"t":"IL-22 Signaling"},{"c":23.81,"r":29.36,"t":"TREM1 Signaling"},{"c":23.81,"r":30.5,"t":"N-Glycan Degradation"},{"c":23.81,"r":31.63,"t":"Role of JAK family kinases in IL-6-type Cytokine Signaling"},{"c":23.81,"r":32.76,"t":"Glycosphingolipid Biosynthesis - Lactoseries"},{"c":23.81,"r":33.9,"t":"4-1BB Signaling in T Lymphocytes"},{"c":23.81,"r":35.03,"t":"Complement System"},{"c":23.81,"r":36.17,"t":"CD27 Signaling in Lymphocytes"},{"c":23.81,"r":37.3,"t":"ERK5 Signaling"},{"c":23.81,"r":38.43,"t":"JAK/Stat Signaling"},{"c":23.81,"r":39.57,"t":"Induction of Apoptosis by HIV1"},{"c":23.81,"r":40.7,"t":"LPS/IL-1 Mediated Inhibition of RXR Function"},{"c":23.81,"r":41.84,"t":"Calcium Signaling"},{"c":23.81,"r":42.97,"t":"14-3-3-mediated Signaling"},{"c":23.81,"r":44.1,"t":"Glutamate Metabolism"}],
"circle":[{"i":0,"d1":1,"d2":0},{"i":1,"d1":0.985,"d2":0.174},{"i":2,"d1":0.94,"d2":0.342},{"i":3,"d1":0.866,"d2":0.5},{"i":4,"d1":0.766,"d2":0.643},{"i":5,"d1":0.643,"d2":0.766},{"i":6,"d1":0.5,"d2":0.866},{"i":7,"d1":0.342,"d2":0.94},{"i":8,"d1":0.174,"d2":0.985},{"i":9,"d1":0,"d2":1},{"i":10,"d1":-0.174,"d2":0.985},{"i":11,"d1":-0.342,"d2":0.94},{"i":12,"d1":-0.5,"d2":0.866},{"i":13,"d1":-0.643,"d2":0.766},{"i":14,"d1":-0.766,"d2":0.643},{"i":15,"d1":-0.866,"d2":0.5},{"i":16,"d1":-0.94,"d2":0.342},{"i":17,"d1":-0.985,"d2":0.174},{"i":18,"d1":-1,"d2":0},{"i":19,"d1":-0.985,"d2":-0.174},{"i":20,"d1":-0.94,"d2":-0.342},{"i":21,"d1":-0.866,"d2":-0.5},{"i":22,"d1":-0.766,"d2":-0.643},{"i":23,"d1":-0.643,"d2":-0.766},{"i":24,"d1":-0.5,"d2":-0.866},{"i":25,"d1":-0.342,"d2":-0.94},{"i":26,"d1":-0.174,"d2":-0.985},{"i":27,"d1":0,"d2":-1},{"i":28,"d1":0.174,"d2":-0.985},{"i":29,"d1":0.342,"d2":-0.94},{"i":30,"d1":0.5,"d2":-0.866},{"i":31,"d1":0.643,"d2":-0.766},{"i":32,"d1":0.766,"d2":-0.643},{"i":33,"d1":0.866,"d2":-0.5},{"i":34,"d1":0.94,"d2":-0.342},{"i":35,"d1":0.985,"d2":-0.174},{"i":36,"d1":1,"d2":0}],
"genes":[
{"gene":"CSNK2A3","d1":-0.748,"d2":0.557,"l1":-0.886,"l2":0.559,"g":"a"},{"gene":"NKX2-3","d1":-0.744,"d2":0.553,"l1":-0.858,"l2":0.559,"g":"a"},{"gene":"RALGDS","d1":-0.794,"d2":0.4375,"l1":-0.95,"l2":0.526,"g":"b"},{"gene":"AFTPH","d1":-0.752,"d2":0.509,"l1":-0.858,"l2":0.509,"g":"a"},{"gene":"ARHGEF7","d1":-0.807,"d2":0.406,"l1":-0.949,"l2":0.406,"g":"a"},{"gene":"STK38","d1":-0.858,"d2":0.382,"l1":-0.969,"l2":0.392,"g":"a"},{"gene":"HPS3","d1":-0.825,"d2":0.371,"l1":-0.914,"l2":0.371,"g":"a"},{"gene":"HPGR","d1":-0.849,"d2":0.355,"l1":-0.947,"l2":0.355,"g":"a"},{"gene":"MCTP2","d1":-0.844,"d2":0.3,"l1":-0.956,"l2":0.303,"g":"a"},{"gene":"MORG1","d1":-0.89,"d2":0.23,"l1":-1.006,"l2":0.235,"g":"a"},{"gene":"AP4B1","d1":-0.928,"d2":0.154,"l1":-1.035,"l2":0.16,"g":"b"},{"gene":"KCNB1","d1":-0.899,"d2":0.119,"l1":-1.013,"l2":0.129,"g":"b"},{"gene":"C10orf88","d1":-0.914,"d2":0.068,"l1":-1.042,"l2":0.074,"g":"a"},{"gene":"COG5","d1":-0.91,"d2":-0.011,"l1":-1.011,"l2":-0.007,"g":"b"},{"gene":"TBCE","d1":0.471,"d2":-0.785,"l1":0.467,"l2":-0.835,"g":"a"},
{"gene":"SFRAP","d1":0.717,"d2":0.612,"l1":0.825,"l2":0.619,"g":"a"},{"gene":"EIF3E","d1":0.704,"d2":0.601,"l1":0.824,"l2":0.607,"g":"a"},{"gene":"NSA2","d1":0.732,"d2":0.594,"l1":0.851,"l2":0.592,"g":"a"},{"gene":"CAPZA","d1":0.75,"d2":0.579,"l1":0.842,"l2":0.57,"g":"a"},{"gene":"TPT1","d1":0.722,"d2":0.57,"l1":0.86,"l2":0.564,"g":"a"},{"gene":"PDCD10","d1":0.741,"d2":0.561,"l1":0.86,"l2":0.548,"g":"a"},{"gene":"PSMD14","d1":0.754,"d2":0.539,"l1":0.851,"l2":0.546,"g":"a"},{"gene":"PPP2CA","d1":0.75,"d2":0.52,"l1":0.879,"l2":0.52,"g":"a"},{"gene":"RAB5A","d1":0.759,"d2":0.509,"l1":0.888,"l2":0.5,"g":"a"},{"gene":"ATP5B","d1":0.765,"d2":0.496,"l1":0.86,"l2":0.496,"g":"a"},{"gene":"PSMB5","d1":0.783,"d2":0.483,"l1":0.906,"l2":0.496,"g":"a"},{"gene":"NUDCD","d1":0.787,"d2":0.472,"l1":0.879,"l2":0.478,"g":"a"},{"gene":"YWHAZTA","d1":0.796,"d2":0.465,"l1":0.943,"l2":0.461,"g":"a"},{"gene":"CCT5","d1":0.801,"d2":0.447,"l1":0.879,"l2":0.447,"g":"a"},{"gene":"COPS3","d1":0.787,"d2":0.432,"l1":0.897,"l2":0.432,"g":"a"},{"gene":"UBE2A","d1":0.809,"d2":0.423,"l1":0.925,"l2":0.423,"g":"a"},{"gene":"SNRPD","d1":0.805,"d2":0.404,"l1":0.934,"l2":0.41,"g":"a"},{"gene":"NARS","d1":0.814,"d2":0.395,"l1":0.971,"l2":0.392,"g":"a"},{"gene":"PSMA3","d1":0.824,"d2":0.377,"l1":0.98,"l2":0.377,"g":"a"},{"gene":"CSE1L","d1":0.814,"d2":0.362,"l1":0.952,"l2":0.368,"g":"a"},{"gene":"TCP1","d1":0.842,"d2":0.368,"l1":0.98,"l2":0.373,"g":"a"},{"gene":"HSPE1","d1":0.842,"d2":0.344,"l1":0.952,"l2":0.325,"g":"a"},{"gene":"SKP1","d1":0.833,"d2":0.307,"l1":0.915,"l2":0.309,"g":"a"},{"gene":"GNAR1A","d1":0.864,"d2":0.303,"l1":1.007,"l2":0.303,"g":"a"},{"gene":"DDX3","d1":0.869,"d2":0.289,"l1":0.961,"l2":0.3,"g":"a"},{"gene":"RPL23","d1":0.903,"d2":0.235,"l1":1.007,"l2":0.241,"g":"b"},{"gene":"RPS24","d1":0.903,"d2":0.221,"l1":0.998,"l2":0.221,"g":"b"},{"gene":"HTRA","d1":0.879,"d2":0.191,"l1":0.98,"l2":0.197,"g":"a"},{"gene":"RPS3A","d1":0.925,"d2":0.175,"l1":1.04,"l2":0.188,"g":"b"}
]
},
"hconcat":[
{"width":720,"height":618,
"encoding":{"x":{"field":"c","type":"quantitative","axis":null,"scale":{"domain":[-7.125,39.09],"nice":false,"zero":false}},"y":{"field":"r","type":"quantitative","axis":null,"scale":{"domain":[64.238,-17.616],"nice":false,"zero":false}}},
"layer":[
{"data":{"name":"frame"},"mark":{"type":"rect","fill":"#000000"},"encoding":{"x2":{"field":"c2"},"y2":{"field":"r2"}}},
{"data":{"name":"heat"},"transform":[{"calculate":"datum.c+1","as":"c2"},{"calculate":"datum.r+1","as":"r2"}],"mark":{"type":"rect"},"encoding":{"x2":{"field":"c2"},"y2":{"field":"r2"},"color":{"field":"v","type":"quantitative","legend":null,"scale":{"domain":[-4,0,4],"range":["#88f030","#000000","#f04000"],"interpolate":"rgb"}}}},
{"data":{"name":"strips"},"mark":{"type":"rect"},"encoding":{"x2":{"field":"c2"},"y2":{"field":"r2"},"fill":{"field":"g","type":"nominal","legend":null,"scale":{"domain":["red","green","cyan"],"range":["#e63200","#8cfa2a","#80fbff"]}}}},
{"data":{"name":"dendro"},"mark":{"type":"rule","color":"#8a8a8a","strokeWidth":1},"encoding":{"x2":{"field":"c2"},"y2":{"field":"r2"}}},
{"data":{"name":"dark"},"mark":{"type":"rule","color":"#444444","strokeWidth":1.2},"encoding":{"x2":{"field":"c2"},"y2":{"field":"r2"}}},
{"data":{"name":"thick"},"mark":{"type":"rule","color":"#000000","strokeWidth":2},"encoding":{"x2":{"field":"c2"},"y2":{"field":"r2"}}},
{"data":{"values":[{"c":16.88,"c2":26.77,"r":-13.64,"r2":-11.92}]},"mark":{"type":"rect","fill":{"gradient":"linear","x1":0,"x2":1,"y1":0,"y2":0,"stops":[{"offset":0,"color":"#80ec30"},{"offset":0.5,"color":"#000000"},{"offset":1,"color":"#cc1020"}]}},"encoding":{"x2":{"field":"c2"},"y2":{"field":"r2"}}},
{"data":{"values":[{"c":17.14,"r":-10.33,"t":"-4"},{"c":22.08,"r":-10.33,"t":"0"},{"c":26.7,"r":-10.33,"t":"4"}]},"mark":{"type":"text","font":"Liberation Serif","fontSize":10,"color":"#222222"},"encoding":{"text":{"field":"t"}}},
{"data":{"values":[{"c":23.81,"r":-1.46,"t":"Canonical Pathways"}]},"mark":{"type":"text","font":"Liberation Serif","fontSize":11,"align":"left","color":"#222222"},"encoding":{"text":{"field":"t"}}},
{"data":{"name":"c1path"},"mark":{"type":"text","font":"Liberation Serif","fontSize":8,"align":"left","color":"#222222"},"encoding":{"text":{"field":"t"}}},
{"data":{"name":"samples"},"mark":{"type":"text","font":"Liberation Sans","fontSize":6,"angle":270,"color":"#555555"},"encoding":{"text":{"field":"t"}}},
{"data":{"values":[{"c":-0.7,"r":10.4,"t":"Cluster 1"}]},"mark":{"type":"text","font":"Liberation Serif","fontSize":12,"angle":270,"color":"#5a1000"},"encoding":{"text":{"field":"t"}}},
{"data":{"values":[{"c":-0.7,"r":33.8,"t":"Cluster 2"}]},"mark":{"type":"text","font":"Liberation Serif","fontSize":12,"angle":270,"color":"#0a4a55"},"encoding":{"text":{"field":"t"}}},
{"data":{"values":[{"c":0.13,"r":59.87,"t":"A"}]},"mark":{"type":"text","font":"Liberation Sans","fontSize":23,"color":"#111111"},"encoding":{"text":{"field":"t"}}}
]},
{"width":480,"height":618,
"encoding":{"x":{"field":"d1","type":"quantitative","scale":{"domain":[-1.3828,1.2648],"nice":false,"zero":false},"axis":{"values":[-1,-0.5,0,0.5,1],"format":".1f","offset":-113.7,"domain":false,"grid":false,"tickSize":7,"tickColor":"#222222","labelFont":"Liberation Sans","labelFontSize":13,"labelColor":"#222222","labelPadding":6,"labelOverlap":false,"labelBound":false,"labelFlush":false,"title":"Dim 1 (50.57%)","titleFont":"Liberation Sans","titleFontSize":13,"titleFontWeight":"normal","titleColor":"#222222","titleX":250.7,"titleY":48}},"y":{"field":"d2","type":"quantitative","scale":{"domain":[-1.7082,1.7005],"nice":false,"zero":false},"axis":{"values":[-1,-0.5,0,0.5,1],"format":".1f","offset":-32,"domain":false,"grid":false,"tickSize":7,"tickColor":"#222222","labelFont":"Liberation Sans","labelFontSize":13,"labelColor":"#222222","labelAngle":-90,"labelAlign":"center","labelBaseline":"bottom","labelPadding":6,"labelOverlap":false,"labelBound":false,"labelFlush":false,"title":"Dim 2 (9.98%)","titleFont":"Liberation Sans","titleFontSize":13,"titleFontWeight":"normal","titleColor":"#222222","titleX":-46,"titleY":308.3}}},
"layer":[
{"data":{"values":[{"d1":-1.2063,"d2":-1.0811,"e1":1.2057,"e2":1.0789}]},"mark":{"type":"rect","fill":null,"stroke":"#222222","strokeWidth":1},"encoding":{"x2":{"field":"e1"},"y2":{"field":"e2"}}},
{"data":{"values":[{"d1":0,"d2":-1.0811,"e1":0,"e2":1.0789},{"d1":-1.2063,"d2":0,"e1":1.2057,"e2":0}]},"mark":{"type":"rule","color":"#222222","strokeWidth":1,"strokeDash":[5,4]},"encoding":{"x2":{"field":"e1"},"y2":{"field":"e2"}}},
{"data":{"name":"circle"},"mark":{"type":"line","color":"#222222","strokeWidth":0.9,"interpolate":"cardinal"},"encoding":{"order":{"field":"i"}}},
{"data":{"name":"genes"},"mark":{"type":"rule","color":"#111111","strokeWidth":1},"encoding":{"x2":{"datum":0},"y2":{"datum":0}}},
{"data":{"name":"genes"},"transform":[{"calculate":"atan2(datum.d1,datum.d2)*180/PI","as":"a"}],"mark":{"type":"point","filled":false,"shape":"M-0.45,1L0,0L0.45,1","size":49,"opacity":1,"color":"#111111","strokeWidth":1},"encoding":{"angle":{"field":"a","type":"quantitative","scale":null}}},
{"data":{"name":"genes"},"transform":[{"calculate":"datum.l1","as":"d1"},{"calculate":"datum.l2","as":"d2"}],"mark":{"type":"text","font":"Liberation Sans","fontSize":7.5},"encoding":{"text":{"field":"gene"},"color":{"field":"g","type":"nominal","legend":null,"scale":{"domain":["a","b"],"range":["#111111","#c0303a"]}}}},
{"data":{"values":[{"d1":-1.09,"d2":-1.526,"t":"B"}]},"mark":{"type":"text","font":"Liberation Sans","fontSize":23,"color":"#111111"},"encoding":{"text":{"field":"t"}}}
]}
]}
